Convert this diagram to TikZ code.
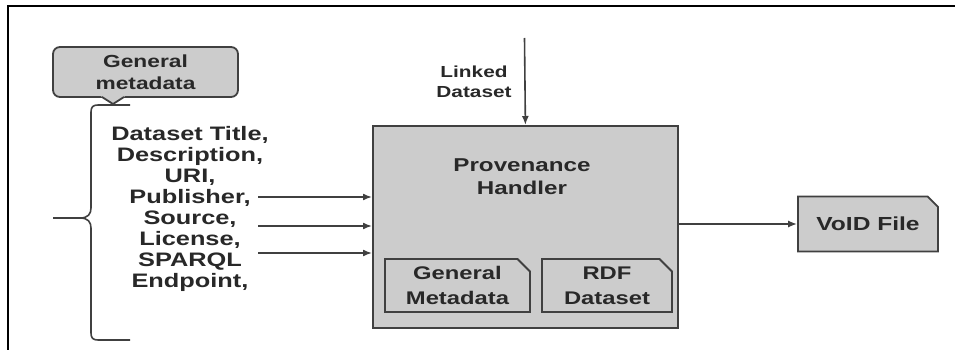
\documentclass[tikz,border=0pt]{standalone}
\usepackage{fontspec}
\setmainfont{Liberation Sans}[FakeStretch=1.3]
\usetikzlibrary{shapes.misc,arrows.meta}
\definecolor{boxfill}{RGB}{204,204,204}
\definecolor{edge}{RGB}{64,64,64}
\definecolor{txt}{RGB}{40,40,40}
\tikzset{
  box/.style={draw=edge, fill=boxfill, line width=1.8pt},
  snip/.style={box, chamfered rectangle, chamfered rectangle corners=north east,
    chamfered rectangle xsep=9pt, inner sep=0pt},
  arr/.style={-{Latex[length=9pt,width=7pt]}, line width=1.6pt, draw=edge},
  lbl/.style={text=txt, align=center, inner sep=0pt},
  bracel/.style={draw=edge, line width=1.6pt}
}
\begin{document}
\begin{tikzpicture}[x=1pt,y=-1pt,font=\bfseries]
\useasboundingbox (0,0) rectangle (955,350);
% frame
\draw[line width=2pt] (8,351) -- (8,6) -- (956,6);
% callout
\node[box, rounded corners=7pt, minimum width=185pt, minimum height=50pt, lbl,
  font=\bfseries\fontsize{17.5}{22}\selectfont] (gmd) at (145.5,72) {General\\metadata};
\coordinate (tip) at (113,104);
\fill[boxfill] (100,95.5) -- (tip) -- (126,95.5) -- cycle;
\draw[draw=edge, line width=1.8pt, line join=miter] (102,97) -- (tip) -- (124,97);
% brace
\draw[bracel] (130,105) -- (98,105) .. controls (93,105) and (91,107) .. (91,112)
  -- (91,208) .. controls (91,214) and (88,218) .. (80,218) -- (53,218);
\draw[bracel] (80,218) .. controls (88,218) and (91,222) .. (91,228)
  -- (91,333) .. controls (91,338) and (93,340) .. (98,340) -- (130,340);
% list
\node[lbl, font=\bfseries\fontsize{19.5}{21}\selectfont] (list) at (190,209)
  {Dataset Title,\\Description,\\URI,\\Publisher,\\Source,\\License,\\SPARQL\\Endpoint,};
% provenance handler
\node[box, minimum width=305pt, minimum height=202pt, inner sep=0pt, anchor=north west] (ph) at (372,125) {};
\node[lbl, font=\bfseries\fontsize{18.6}{23}\selectfont] (phl) at (522,177) {Provenance\\Handler};
\node[snip, minimum width=145pt, minimum height=53pt, lbl,
  font=\bfseries\fontsize{18.3}{25}\selectfont] (gm) at (457.5,285.5) {General\\Metadata};
\node[snip, minimum width=130pt, minimum height=53pt, lbl,
  font=\bfseries\fontsize{18.3}{25}\selectfont] (rdf) at (607,285.5) {RDF\\Dataset};
% void
\node[snip, minimum width=140pt, minimum height=55pt, lbl,
  font=\bfseries\fontsize{18.9}{22}\selectfont] (void) at (868,224) {VoID File};
% linked dataset
\node[lbl, font=\bfseries\fontsize{16}{20}\selectfont] (ldl) at (474,82) {Linked\\Dataset};
\coordinate (ldtop) at (524.5,38);
\draw[arr] (ldtop) -- (ph.north);
% input arrows
\coordinate (a1) at (258,197);
\coordinate (a2) at (258,226);
\coordinate (a3) at (258,253);
\draw[arr] (a1) -- (a1 -| ph.west);
\draw[arr] (a2) -- (a2 -| ph.west);
\draw[arr] (a3) -- (a3 -| ph.west);
% output
\draw[arr] (void.west -| ph.east) -- (void.west);
\end{tikzpicture}
\end{document}
